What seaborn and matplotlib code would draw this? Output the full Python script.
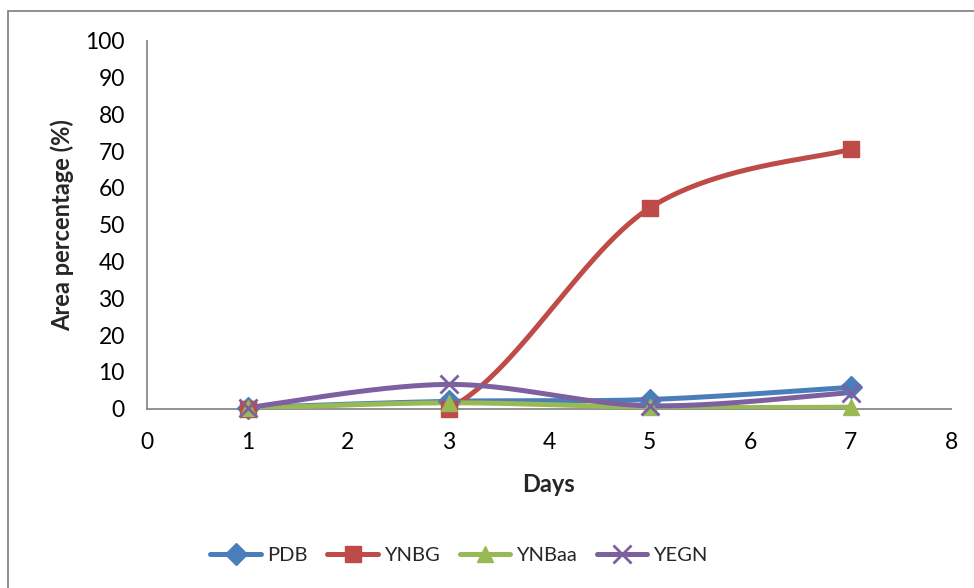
import numpy as np
import pandas as pd
import matplotlib
matplotlib.use("Agg")
import matplotlib.pyplot as plt
from matplotlib.lines import Line2D
import seaborn as sns

days = [1, 3, 5, 7]
pdb = [0.3, 2.0, 2.5, 5.8]
ynbg = [0.0, 0.0, 54.5, 70.5]
ynbaa = [0.1, 1.6, 0.4, 0.4]
yegn = [0.3, 6.6, 0.8, 4.4]

series_names = ["PDB", "YNBG", "YNBaa", "YEGN"]
series_values = [pdb, ynbg, ynbaa, yegn]
colors = ["#4A7EBB", "#BE4B48", "#98B954", "#7D60A0"]
markers = ["D", "s", "^", "x"]
marker_sizes = [11, 12, 12, 13]


def smooth_curve(x, y, n=60):
    """Catmull-Rom style cubic Bezier through every point."""
    pts = np.column_stack([x, y]).astype(float)
    ext = np.vstack([pts[0], pts, pts[-1]])
    out = []
    t = np.linspace(0, 1, n)[:, None]
    for i in range(len(pts) - 1):
        p0, p3 = ext[i + 1], ext[i + 2]
        c1 = p0 + (ext[i + 2] - ext[i]) / 6.0
        c2 = p3 - (ext[i + 3] - ext[i + 1]) / 6.0
        seg = ((1 - t) ** 3) * p0 + 3 * ((1 - t) ** 2) * t * c1 + 3 * (1 - t) * t ** 2 * c2 + t ** 3 * p3
        out.append(seg if i == 0 else seg[1:])
    curve = np.vstack(out)
    return curve[:, 0], curve[:, 1]


sns.set_theme(style="white")
plt.rcParams["font.family"] = ["Lato", "DejaVu Sans"]

fig = plt.figure(figsize=(9.74, 5.88), dpi=100)
W, H = 974, 588
ax = fig.add_axes([147 / W, 1 - 408.7 / H, (951 - 147) / W, (408.7 - 40.7) / H])

for name, vals, col, mk, ms in zip(series_names, series_values, colors, markers, marker_sizes):
    cx, cy = smooth_curve(days, vals)
    curve = pd.DataFrame({"Days": cx, "value": cy})
    sns.lineplot(data=curve, x="Days", y="value", ax=ax, color=col, lw=3.6,
                 sort=False, estimator=None, zorder=3)
    pts = pd.DataFrame({"Days": days, "value": vals})
    ax.plot(pts["Days"], pts["value"], linestyle="none", marker=mk, ms=ms,
            color=col, mec=col, mew=2 if mk == "x" else 1, zorder=4, clip_on=False)

ax.set_xlim(0, 8)
ax.set_ylim(0, 100)
ax.set_xticks(range(0, 9))
ax.set_yticks(range(0, 101, 10))
ax.tick_params(axis="both", labelsize=16.5, labelcolor="black", color="#898989",
               length=7, width=1.3, direction="out")
ax.tick_params(axis="x", pad=10)
ax.tick_params(axis="y", pad=9)
for side in ["top", "right"]:
    ax.spines[side].set_visible(False)
for side in ["left", "bottom"]:
    ax.spines[side].set_color("#898989")
    ax.spines[side].set_linewidth(1.3)

ax.set_xlabel("Days", fontsize=17, fontweight="bold", labelpad=14)
ax.set_ylabel("Area percentage (%)", fontsize=17, fontweight="bold", labelpad=8)

handles = [Line2D([0], [0], color=c, lw=3.6, marker=m, ms=ms, mew=2 if m == "x" else 1)
           for c, m, ms in zip(colors, markers, marker_sizes)]
fig.legend(handles, series_names, loc="center", bbox_to_anchor=(459 / W, 1 - 555 / H),
           ncol=4, frameon=False, fontsize=14.5, handlelength=2.5, columnspacing=1.0,
           handletextpad=0.3)

border = plt.Rectangle((7.5 / W, -0.1), 1.2, 1 - 11.5 / H + 0.1, transform=fig.transFigure,
                       fill=False, edgecolor="#868686", lw=1.3, clip_on=False)
fig.patches.append(border)

fig.savefig("out.png", dpi=100)
